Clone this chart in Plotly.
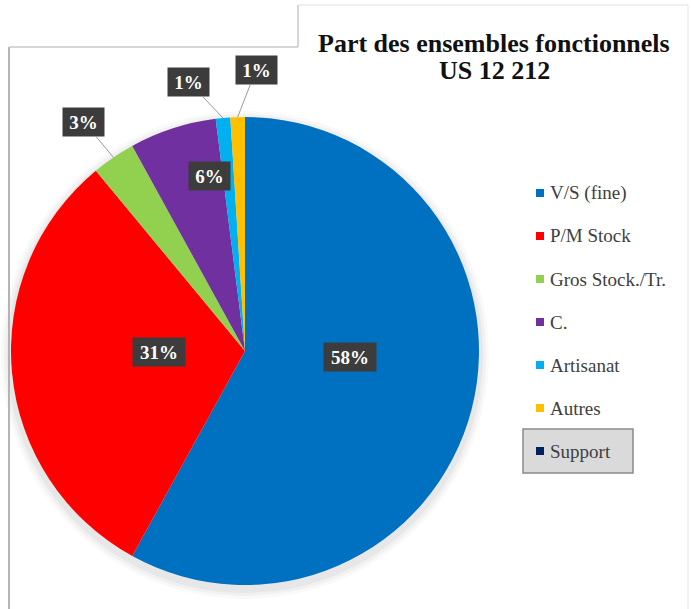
import math
import plotly.graph_objects as go

# Répartition des ensembles fonctionnels (US 12 212)
categories = ["V/S (fine)", "P/M Stock", "Gros Stock./Tr.", "C.", "Artisanat", "Autres", "Support"]
values = [58, 31, 3, 6, 1, 1, 0]
colors = ["#0070C0", "#FF0000", "#92D050", "#7030A0", "#00B0F0", "#FFC000", "#002060"]
title_lines = ["Part des ensembles fonctionnels", "US 12 212"]

W, H = 691, 609
CX, CY, R = 245, 351, 234          # pie centre and radius, in pixels
SERIF = "Liberation Serif, Times New Roman, Times, serif"


def px(x):
    return x / W


def py(y):
    return 1 - y / H


fig = go.Figure()

fig.add_trace(go.Pie(
    labels=categories,
    values=values,
    marker=dict(colors=colors, line=dict(width=0)),
    sort=False,
    direction="clockwise",
    rotation=0,
    textinfo="none",
    hoverinfo="label+percent",
    showlegend=False,
    domain=dict(x=[px(CX - R), px(CX + R)], y=[py(CY + R), py(CY - R)]),
))

shapes = []

# soft drop shadow under the pie
for grow, alpha in [(10, 0.025), (7, 0.03), (4, 0.04)]:
    shapes.append(dict(
        type="circle", xref="paper", yref="paper", layer="below",
        x0=px(CX - R - grow), x1=px(CX + R + grow),
        y0=py(CY + R + grow + 4), y1=py(CY - R - grow + 4),
        line=dict(width=0), fillcolor=f"rgba(0,0,0,{alpha})",
    ))

# chart frame with the raised title panel
frame = [
    ((9, 47), (9, 609), "#b4b4b4", 2),
    ((9, 47), (298, 47), "#c8c8c8", 1.5),
    ((298, 5), (298, 47), "#c8c8c8", 1.5),
    ((298, 5), (688, 5), "#e2e2e2", 1),
    ((688, 5), (688, 609), "#e6e6e6", 1),
]
for (x0, y0), (x1, y1), col, lw in frame:
    shapes.append(dict(type="line", xref="paper", yref="paper",
                       x0=px(x0), y0=py(y0), x1=px(x1), y1=py(y1),
                       line=dict(color=col, width=lw)))

annotations = []

# two-line title
for line, yy in zip(title_lines, [43, 71]):
    annotations.append(dict(
        text=f"<b>{line}</b>", xref="paper", yref="paper",
        x=px(494), y=py(yy), xanchor="center", yanchor="middle",
        showarrow=False,
        font=dict(family=SERIF, size=26, color="#111111"),
    ))

# percentage labels: dark boxes, some with a leader line to the rim
label_box = {
    "V/S (fine)": (350, 357, False),
    "P/M Stock": (132, 352, False),
    "Gros Stock./Tr.": (84, 122, True),
    "C.": (188, 161, False),
    "Artisanat": (189, 82, True),
    "Autres": (256, 70, True),
}
total = sum(values)
cum = 0
for cat, v in zip(categories, values):
    start, cum = cum, cum + v
    if cat not in label_box:
        continue
    bx, by, outside = label_box[cat]
    text = f"{round(100 * v / total)}%"
    box = dict(
        text=f"<b>{text}</b>",
        font=dict(family=SERIF, size=19, color="white"),
        bgcolor="#3c3c3c",
        borderpad=4,
        width=44 if len(text) > 2 else 33,
        height=20,
        xref="paper", yref="paper",
    )
    if outside:
        theta = 2 * math.pi * (start + v / 2) / total
        tx = CX + R * math.sin(theta)
        ty = CY - R * math.cos(theta)
        box.update(x=px(tx), y=py(ty), showarrow=True, arrowhead=0,
                   arrowwidth=1, arrowcolor="#9a9a9a", standoff=0,
                   ax=bx - tx, ay=by - ty)
    else:
        box.update(x=px(bx), y=py(by), showarrow=False)
    annotations.append(box)

# legend, drawn by hand
LEG_X, LEG_Y0, LEG_DY = 540, 193, 43
shapes.append(dict(type="rect", xref="paper", yref="paper", layer="below",
                   x0=px(523), x1=px(633), y0=py(473), y1=py(429),
                   fillcolor="#dadada", line=dict(color="#8a8a8a", width=1.5)))
for i, (cat, col) in enumerate(zip(categories, colors)):
    yy = LEG_Y0 + i * LEG_DY
    shapes.append(dict(type="rect", xref="paper", yref="paper",
                       x0=px(LEG_X - 4), x1=px(LEG_X + 4),
                       y0=py(yy + 4), y1=py(yy - 4),
                       fillcolor=col, line=dict(width=0)))
    annotations.append(dict(
        text=cat, xref="paper", yref="paper",
        x=px(LEG_X + 8), y=py(yy), xanchor="left", yanchor="middle",
        showarrow=False,
        font=dict(family=SERIF, size=19, color="#404040"),
    ))

fig.update_layout(
    width=W, height=H,
    margin=dict(l=0, r=0, t=0, b=0),
    paper_bgcolor="white",
    plot_bgcolor="white",
    shapes=shapes,
    annotations=annotations,
)

fig.write_html("out.html")
